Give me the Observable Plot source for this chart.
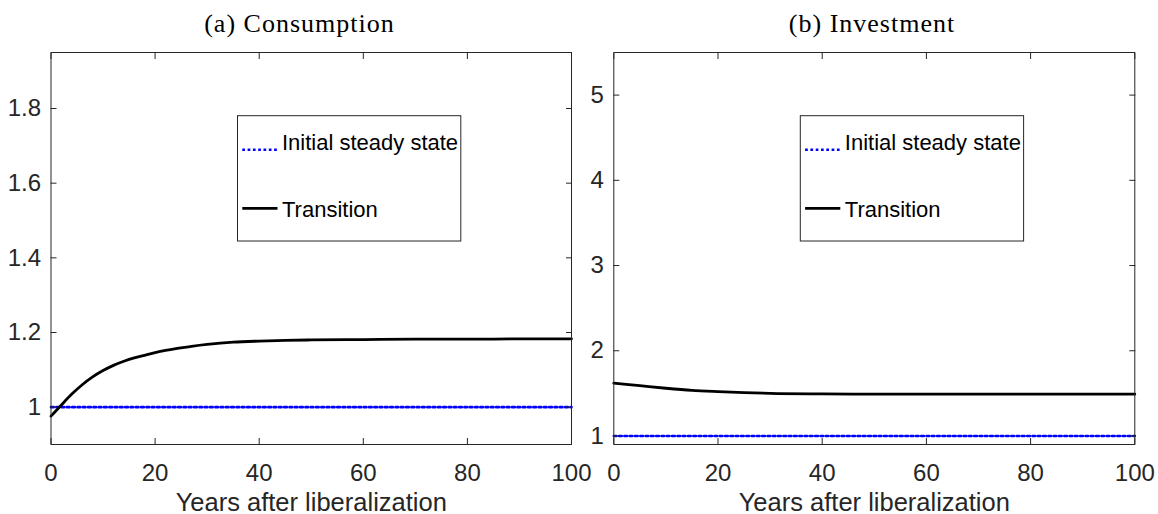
<!DOCTYPE html>
<html><head><meta charset="utf-8">
<script src="https://cdn.jsdelivr.net/npm/d3@7"></script>
<script src="https://cdn.jsdelivr.net/npm/@observablehq/plot@0.6"></script>
<style>
body{margin:0;background:#fff;}
#wrap{display:flex;width:1158px;height:514px;background:#fff;}
#wrap svg{display:block;overflow:visible;background:transparent !important;}
</style></head><body><div id="wrap"></div>
<script>
// ---- data ----
const consYears = [0,2,4,6,8,10,12,14,16,18,20,22,24,27,30,35,40,45,50,60,70,80,90,100];
const consValues = [0.976,1.006,1.035,1.060,1.081,1.098,1.112,1.123,1.132,1.139,1.146,1.152,1.157,1.163,1.168,1.174,1.177,1.179,1.180,1.181,1.182,1.182,1.183,1.183];
const invYears = [0,5,10,15,20,25,30,40,50,60,80,100];
const invValues = [1.62,1.59,1.56,1.535,1.52,1.508,1.50,1.494,1.491,1.49,1.49,1.49];
const steadyYears = [0,100];
const steadyValues = [1,1];
const xTicks = [0,20,40,60,80,100];
const consTicks = [1,1.2,1.4,1.6,1.8];
const invTicks = [1,2,3,4,5];
const titles = ["(a) Consumption","(b) Investment"];
const xLabel = "Years after liberalization";
const legendLabels = ["Initial steady state","Transition"];

const ink = "#262626";

function panel({years, values, yDomain, yTicks, title, marginLeft, marginRight, titleDx, legendX}) {
  const transition = years.map((t,i)=>({t, v: values[i]}));
  const steady = steadyYears.map((t,i)=>({t, v: steadyValues[i]}));
  const svg = Plot.plot({
    width: 579, height: 514,
    marginTop: 52, marginBottom: 70, marginLeft, marginRight,
    style: {fontFamily: "'Liberation Sans', Arial, sans-serif", fontSize: "24px", color: ink, background: "transparent", overflow: "visible"},
    x: {domain: [0,100]},
    y: {domain: yDomain},
    marks: [
      Plot.line(steady, {x:"t", y:"v", stroke:"#0000ff", strokeWidth:2.6, strokeDasharray:"2.7,2.6"}),
      Plot.line(transition, {x:"t", y:"v", stroke:"#000", strokeWidth:2.8, curve:"monotone-x"}),
      Plot.frame({stroke: ink, strokeWidth: 1}),
      Plot.axisX(xTicks, {anchor:"bottom", tickSize:0, tickPadding:19, label:null, tickFormat: d=>String(d), fill: ink}),
      Plot.axisX(xTicks, {anchor:"bottom", tickSize:-6, text:null, label:null, stroke: ink}),
      Plot.axisX(xTicks, {anchor:"top", tickSize:-6, text:null, label:null, stroke: ink}),
      Plot.axisY(yTicks, {anchor:"left", tickSize:0, tickPadding:10, label:null, tickFormat: d=>String(d), fill: ink}),
      Plot.axisY(yTicks, {anchor:"left", tickSize:-6, text:null, label:null, stroke: ink}),
      Plot.axisY(yTicks, {anchor:"right", tickSize:-6, text:null, label:null, stroke: ink}),
      Plot.text([xLabel], {frameAnchor:"bottom", dy:66, lineAnchor:"bottom", fontSize:25.5, fill: ink}),
      Plot.text([title], {frameAnchor:"top", dy:-21, dx:titleDx, lineAnchor:"bottom", fontSize:26, fontFamily:"'Liberation Serif', 'Times New Roman', serif", fill:"#000"})
    ]
  });
  const s = d3.select(svg);
  s.selectAll("text").filter(function(){return this.textContent===title;}).style("letter-spacing","1px");
  // legend box
  const g = s.append("g")
    .style("font-family","'Liberation Sans', Arial, sans-serif")
    .style("font-size","22px")
    .attr("text-anchor","start");
  g.append("rect").attr("x",legendX).attr("y",115.7).attr("width",223.3).attr("height",125.3)
    .attr("fill","#fff").attr("stroke",ink).attr("stroke-width",1);
  g.append("line").attr("x1",legendX+4.8).attr("x2",legendX+40).attr("y1",149.7).attr("y2",149.7)
    .attr("stroke","#0000ff").attr("stroke-width",2.6).attr("stroke-dasharray","2.7,2.6");
  g.append("line").attr("x1",legendX+4.8).attr("x2",legendX+40).attr("y1",208.3).attr("y2",208.3)
    .attr("stroke","#000").attr("stroke-width",2.8);
  g.append("text").attr("x",legendX+44.5).attr("y",150).attr("fill","#000").attr("text-anchor","start").text(legendLabels[0]);
  g.append("text").attr("x",legendX+44.5).attr("y",217.3).attr("fill","#000").attr("text-anchor","start").text(legendLabels[1]);
  return svg;
}

const wrap = document.getElementById("wrap");
wrap.append(panel({years: consYears, values: consValues, yDomain:[0.9,1.95], yTicks: consTicks, title: titles[0], marginLeft:50.5, marginRight:8, titleDx:-11.8, legendX:237.5}));
wrap.append(panel({years: invYears, values: invValues, yDomain:[0.9,5.5], yTicks: invTicks, title: titles[1], marginLeft:34.3, marginRight:23.7, titleDx:-2.3, legendX:221.3}));
</script></body></html>
